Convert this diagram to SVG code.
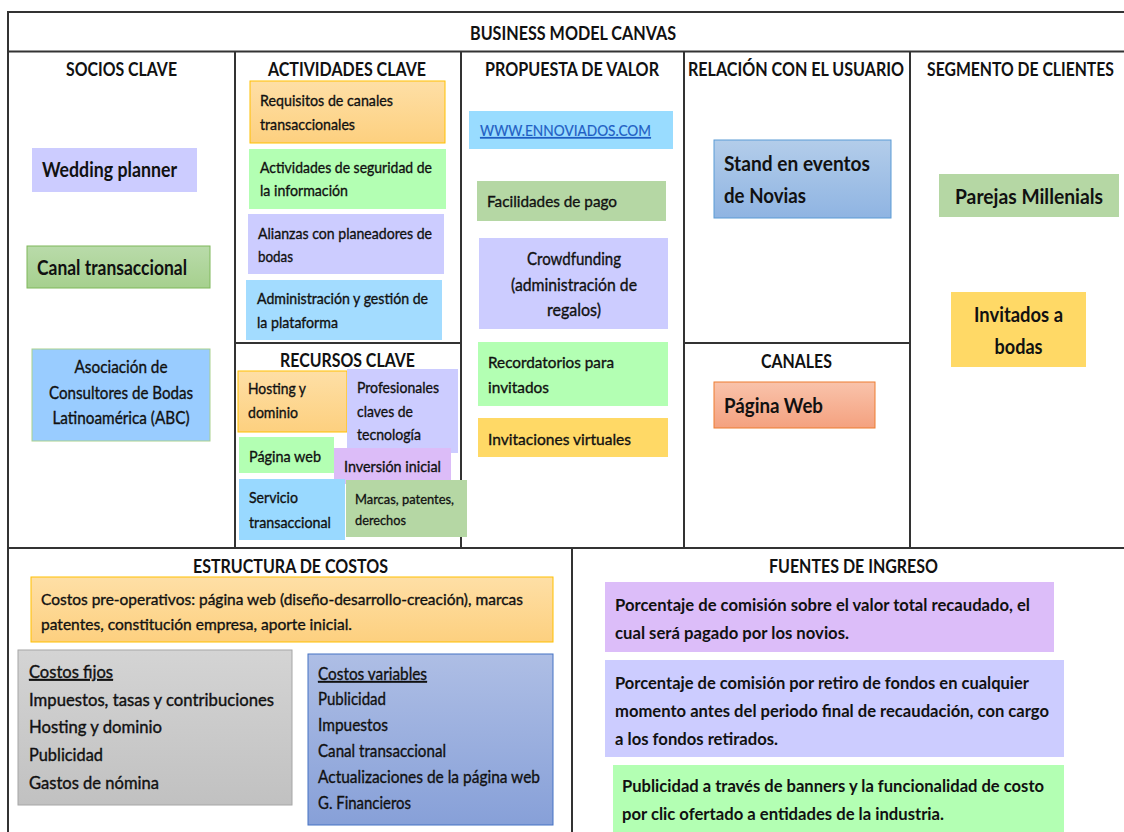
<svg xmlns="http://www.w3.org/2000/svg" width="1124" height="832" viewBox="0 0 1124 832">
<style>
text{font-family:Lato,"Liberation Sans",sans-serif;fill:#111;}
.h{font-size:19px;font-weight:bold;}
.r{font-size:16px;stroke:#111;stroke-width:0.35;}
.s{font-size:14px;stroke:#111;stroke-width:0.3;}
.m{font-size:17px;stroke:#111;stroke-width:0.35;}
.b{font-size:21px;font-weight:bold;}
.i{font-size:17px;font-weight:bold;}
.f{font-size:18px;stroke:#111;stroke-width:0.4;}
.c{text-anchor:middle;}
.u{text-decoration:underline;}
.grid line{stroke:#333;stroke-width:2;}
</style>
<defs>
<linearGradient id="gOr" x1="0" y1="0" x2="0" y2="1"><stop offset="0" stop-color="#fedfa6"/><stop offset="1" stop-color="#fdd07f"/></linearGradient>
<linearGradient id="gGr" x1="0" y1="0" x2="0" y2="1"><stop offset="0" stop-color="#b9dbaa"/><stop offset="1" stop-color="#a6d08e"/></linearGradient>
<linearGradient id="gBl" x1="0" y1="0" x2="0" y2="1"><stop offset="0" stop-color="#b3cdea"/><stop offset="1" stop-color="#8fb4e2"/></linearGradient>
<linearGradient id="gPk" x1="0" y1="0" x2="0" y2="1"><stop offset="0" stop-color="#f9c3ab"/><stop offset="1" stop-color="#f4a17f"/></linearGradient>
<linearGradient id="gGy" x1="0" y1="0" x2="0" y2="1"><stop offset="0" stop-color="#d4d4d4"/><stop offset="1" stop-color="#c1c1c1"/></linearGradient>
<linearGradient id="gVb" x1="0" y1="0" x2="0" y2="1"><stop offset="0" stop-color="#aebee5"/><stop offset="1" stop-color="#87a0d8"/></linearGradient>
</defs>
<rect width="1124" height="832" fill="#fff"/>
<g class="grid" id="grid">
<line x1="8" y1="12" x2="1124" y2="12"/>
<line x1="8" y1="11" x2="8" y2="832"/>
<line x1="8" y1="51.5" x2="1124" y2="51.5"/>
<line x1="235" y1="51" x2="235" y2="548"/>
<line x1="461" y1="51" x2="461" y2="548"/>
<line x1="684" y1="51" x2="684" y2="548"/>
<line x1="910" y1="51" x2="910" y2="548"/>
<line x1="235" y1="343" x2="461" y2="343"/>
<line x1="684" y1="343" x2="910" y2="343"/>
<line x1="8" y1="548" x2="1124" y2="548"/>
<line x1="572" y1="548" x2="572" y2="832"/>
</g>
<g id="titles">
<text class="h" x="470" y="40" textLength="206" lengthAdjust="spacingAndGlyphs">BUSINESS MODEL CANVAS</text>
<text class="h" x="66" y="76" textLength="111" lengthAdjust="spacingAndGlyphs">SOCIOS CLAVE</text>
<text class="h" x="268" y="76" textLength="158" lengthAdjust="spacingAndGlyphs">ACTIVIDADES CLAVE</text>
<text class="h" x="485" y="76" textLength="174" lengthAdjust="spacingAndGlyphs">PROPUESTA DE VALOR</text>
<text class="h" x="688" y="76" textLength="216" lengthAdjust="spacingAndGlyphs">RELACIÓN CON EL USUARIO</text>
<text class="h" x="927" y="76" textLength="187" lengthAdjust="spacingAndGlyphs">SEGMENTO DE CLIENTES</text>
<text class="h" x="280" y="367" textLength="135" lengthAdjust="spacingAndGlyphs">RECURSOS CLAVE</text>
<text class="h" x="761" y="368" textLength="71" lengthAdjust="spacingAndGlyphs">CANALES</text>
<text class="h" x="193" y="573" textLength="195" lengthAdjust="spacingAndGlyphs">ESTRUCTURA DE COSTOS</text>
<text class="h" x="769" y="573" textLength="169" lengthAdjust="spacingAndGlyphs">FUENTES DE INGRESO</text>
</g>
<g id="wedding-planner"><rect x="32" y="148" width="165" height="44" fill="#ccccff"/><text class="b" x="42" y="177" textLength="135" lengthAdjust="spacingAndGlyphs">Wedding planner</text></g>
<g id="canal-transaccional"><rect x="27" y="246" width="183" height="42" fill="url(#gGr)" stroke="#7fb85a" stroke-width="1"/><text class="b" x="37" y="275" textLength="150" lengthAdjust="spacingAndGlyphs">Canal transaccional</text></g>
<g id="asociacion"><rect x="32" y="349" width="178" height="92" fill="#99ccff" stroke="#a9d18e" stroke-width="1"/><text class="m c" x="121" y="373" textLength="93" lengthAdjust="spacingAndGlyphs">Asociación de</text><text class="m c" x="121" y="399" textLength="144" lengthAdjust="spacingAndGlyphs">Consultores de Bodas</text><text class="m c" x="121" y="424" textLength="137" lengthAdjust="spacingAndGlyphs">Latinoamérica (ABC)</text></g>
<g id="requisitos"><rect x="250" y="81" width="195" height="62" fill="url(#gOr)" stroke="#ffc000" stroke-width="1"/><text class="r" x="260" y="106" textLength="133" lengthAdjust="spacingAndGlyphs">Requisitos de canales</text><text class="r" x="260" y="130" textLength="95" lengthAdjust="spacingAndGlyphs">transaccionales</text></g>
<g id="seguridad"><rect x="249" y="149" width="197" height="60" fill="#b3ffb3"/><text class="r" x="260" y="173" textLength="172" lengthAdjust="spacingAndGlyphs">Actividades de seguridad de</text><text class="r" x="260" y="196" textLength="88" lengthAdjust="spacingAndGlyphs">la información</text></g>
<g id="alianzas"><rect x="248" y="214" width="196" height="60" fill="#ccccff"/><text class="r" x="258" y="239" textLength="174" lengthAdjust="spacingAndGlyphs">Alianzas con planeadores de</text><text class="r" x="258" y="262" textLength="35" lengthAdjust="spacingAndGlyphs">bodas</text></g>
<g id="administracion"><rect x="246" y="280" width="196" height="60" fill="#a3dcff"/><text class="r" x="257" y="304" textLength="171" lengthAdjust="spacingAndGlyphs">Administración y gestión de</text><text class="r" x="257" y="328" textLength="81" lengthAdjust="spacingAndGlyphs">la plataforma</text></g>
<g id="hosting"><rect x="238" y="371" width="109" height="61" fill="url(#gOr)" stroke="#ffc000" stroke-width="1"/><text class="r" x="248" y="394" textLength="58" lengthAdjust="spacingAndGlyphs">Hosting y</text><text class="r" x="248" y="418" textLength="50" lengthAdjust="spacingAndGlyphs">dominio</text></g>
<g id="profesionales"><rect x="347" y="369" width="111" height="84" fill="#ccccff"/><text class="r" x="357" y="393" textLength="82" lengthAdjust="spacingAndGlyphs">Profesionales</text><text class="r" x="357" y="417" textLength="56" lengthAdjust="spacingAndGlyphs">claves de</text><text class="r" x="357" y="440" textLength="64" lengthAdjust="spacingAndGlyphs">tecnología</text></g>
<g id="pagina-web-recurso"><rect x="239" y="437" width="95" height="36" fill="#b3ffb3"/><text class="r" x="249" y="462" textLength="72" lengthAdjust="spacingAndGlyphs">Página web</text></g>
<g id="inversion"><rect x="334" y="448" width="117" height="36" fill="#dcbcf8"/><text class="r" x="344" y="472" textLength="97" lengthAdjust="spacingAndGlyphs">Inversión inicial</text></g>
<g id="servicio"><rect x="239" y="479" width="106" height="61" fill="#99d9ff"/><text class="r" x="249" y="503" textLength="49" lengthAdjust="spacingAndGlyphs">Servicio</text><text class="r" x="249" y="528" textLength="82" lengthAdjust="spacingAndGlyphs">transaccional</text></g>
<g id="marcas"><rect x="346" y="480" width="121" height="57" fill="#b5d7a4"/><text class="s" x="355" y="504" textLength="99" lengthAdjust="spacingAndGlyphs">Marcas, patentes,</text><text class="s" x="355" y="525" textLength="51" lengthAdjust="spacingAndGlyphs">derechos</text></g>
<g id="www"><rect x="469" y="111" width="204" height="38" fill="#99dcff"/><text class="r u" x="480" y="136" textLength="171" lengthAdjust="spacingAndGlyphs" style="fill:#1f5fc4;stroke:#1f5fc4;stroke-width:0.2">WWW.ENNOVIADOS.COM</text></g>
<g id="facilidades"><rect x="477" y="181" width="189" height="40" fill="#b5d7a4"/><text class="r" x="487" y="207" textLength="130" lengthAdjust="spacingAndGlyphs">Facilidades  de pago</text></g>
<g id="crowdfunding"><rect x="479" y="238" width="189" height="91" fill="#ccccff"/><text class="m c" x="574" y="265" textLength="94" lengthAdjust="spacingAndGlyphs">Crowdfunding</text><text class="m c" x="574" y="291" textLength="126" lengthAdjust="spacingAndGlyphs">(administración de</text><text class="m c" x="574" y="316" textLength="54" lengthAdjust="spacingAndGlyphs">regalos)</text></g>
<g id="recordatorios"><rect x="478" y="342" width="190" height="64" fill="#b3ffb3"/><text class="r" x="488" y="368" textLength="126" lengthAdjust="spacingAndGlyphs">Recordatorios para</text><text class="r" x="488" y="393" textLength="61" lengthAdjust="spacingAndGlyphs">invitados</text></g>
<g id="invitaciones"><rect x="478" y="418" width="190" height="39" fill="#ffd966"/><text class="r" x="488" y="445" textLength="143" lengthAdjust="spacingAndGlyphs">Invitaciones virtuales</text></g>
<g id="stand"><rect x="714" y="140" width="177" height="78" fill="url(#gBl)" stroke="#5b9bd5" stroke-width="1"/><text class="b" x="724" y="171" textLength="146" lengthAdjust="spacingAndGlyphs">Stand en eventos</text><text class="b" x="724" y="203" textLength="82" lengthAdjust="spacingAndGlyphs">de Novias</text></g>
<g id="pagina-web-canal"><rect x="714" y="382" width="161" height="46" fill="url(#gPk)" stroke="#ed7d31" stroke-width="1"/><text class="b" x="724" y="413" textLength="99" lengthAdjust="spacingAndGlyphs">Página Web</text></g>
<g id="parejas"><rect x="939" y="174" width="180" height="43" fill="#b5d7a4"/><text class="b" x="955" y="204" textLength="148" lengthAdjust="spacingAndGlyphs">Parejas Millenials</text></g>
<g id="invitados"><rect x="951" y="292" width="135" height="75" fill="#ffd966"/><text class="b c" x="1018.5" y="322" textLength="89" lengthAdjust="spacingAndGlyphs">Invitados a</text><text class="b c" x="1018.5" y="354" textLength="48" lengthAdjust="spacingAndGlyphs">bodas</text></g>
<g id="pre-operativos"><rect x="31" y="577" width="522" height="65" fill="url(#gOr)" stroke="#ffc000" stroke-width="1"/><text class="r" x="41" y="605" textLength="482" lengthAdjust="spacingAndGlyphs">Costos pre-operativos: página web (diseño-desarrollo-creación), marcas</text><text class="r" x="41" y="630" textLength="311" lengthAdjust="spacingAndGlyphs">patentes, constitución empresa, aporte inicial.</text></g>
<g id="costos-fijos"><rect x="18" y="650" width="274" height="155" fill="url(#gGy)" stroke="#a6a6a6" stroke-width="1"/><text class="f u" x="29" y="678" textLength="84" lengthAdjust="spacingAndGlyphs">Costos fijos</text><text class="f" x="29" y="706" textLength="245" lengthAdjust="spacingAndGlyphs">Impuestos, tasas y contribuciones</text><text class="f" x="29" y="733" textLength="133" lengthAdjust="spacingAndGlyphs">Hosting y dominio</text><text class="f" x="29" y="761" textLength="74" lengthAdjust="spacingAndGlyphs">Publicidad</text><text class="f" x="29" y="789" textLength="130" lengthAdjust="spacingAndGlyphs">Gastos de nómina</text></g>
<g id="costos-variables"><rect x="308" y="654" width="245" height="171" fill="url(#gVb)" stroke="#4472c4" stroke-width="1"/><text class="m u" x="318" y="680" textLength="109" lengthAdjust="spacingAndGlyphs">Costos variables</text><text class="m" x="318" y="705" textLength="68" lengthAdjust="spacingAndGlyphs">Publicidad</text><text class="m" x="318" y="731" textLength="70" lengthAdjust="spacingAndGlyphs">Impuestos</text><text class="m" x="318" y="757" textLength="128" lengthAdjust="spacingAndGlyphs">Canal transaccional</text><text class="m" x="318" y="783" textLength="222" lengthAdjust="spacingAndGlyphs">Actualizaciones de la página web</text><text class="m" x="318" y="809" textLength="93" lengthAdjust="spacingAndGlyphs">G. Financieros</text></g>
<g id="ingreso-comision"><rect x="605" y="582" width="449" height="70" fill="#dcbdf9"/><text class="i" x="615" y="611" textLength="415" lengthAdjust="spacingAndGlyphs">Porcentaje de comisión sobre el valor total recaudado, el</text><text class="i" x="615" y="639" textLength="234" lengthAdjust="spacingAndGlyphs">cual será pagado por los novios.</text></g>
<g id="ingreso-retiro"><rect x="605" y="660" width="459" height="97" fill="#ccccff"/><text class="i" x="615" y="689" textLength="414" lengthAdjust="spacingAndGlyphs">Porcentaje de comisión por retiro de fondos en cualquier</text><text class="i" x="615" y="717" textLength="434" lengthAdjust="spacingAndGlyphs">momento antes del periodo final de recaudación, con cargo</text><text class="i" x="615" y="745" textLength="163" lengthAdjust="spacingAndGlyphs">a los fondos retirados.</text></g>
<g id="ingreso-publicidad"><rect x="613" y="765" width="451" height="70" fill="#b3ffb3"/><text class="i" x="622" y="792" textLength="422" lengthAdjust="spacingAndGlyphs">Publicidad a través de banners y la funcionalidad de costo</text><text class="i" x="622" y="820" textLength="322" lengthAdjust="spacingAndGlyphs">por clic ofertado a entidades de la industria.</text></g>
</svg>
